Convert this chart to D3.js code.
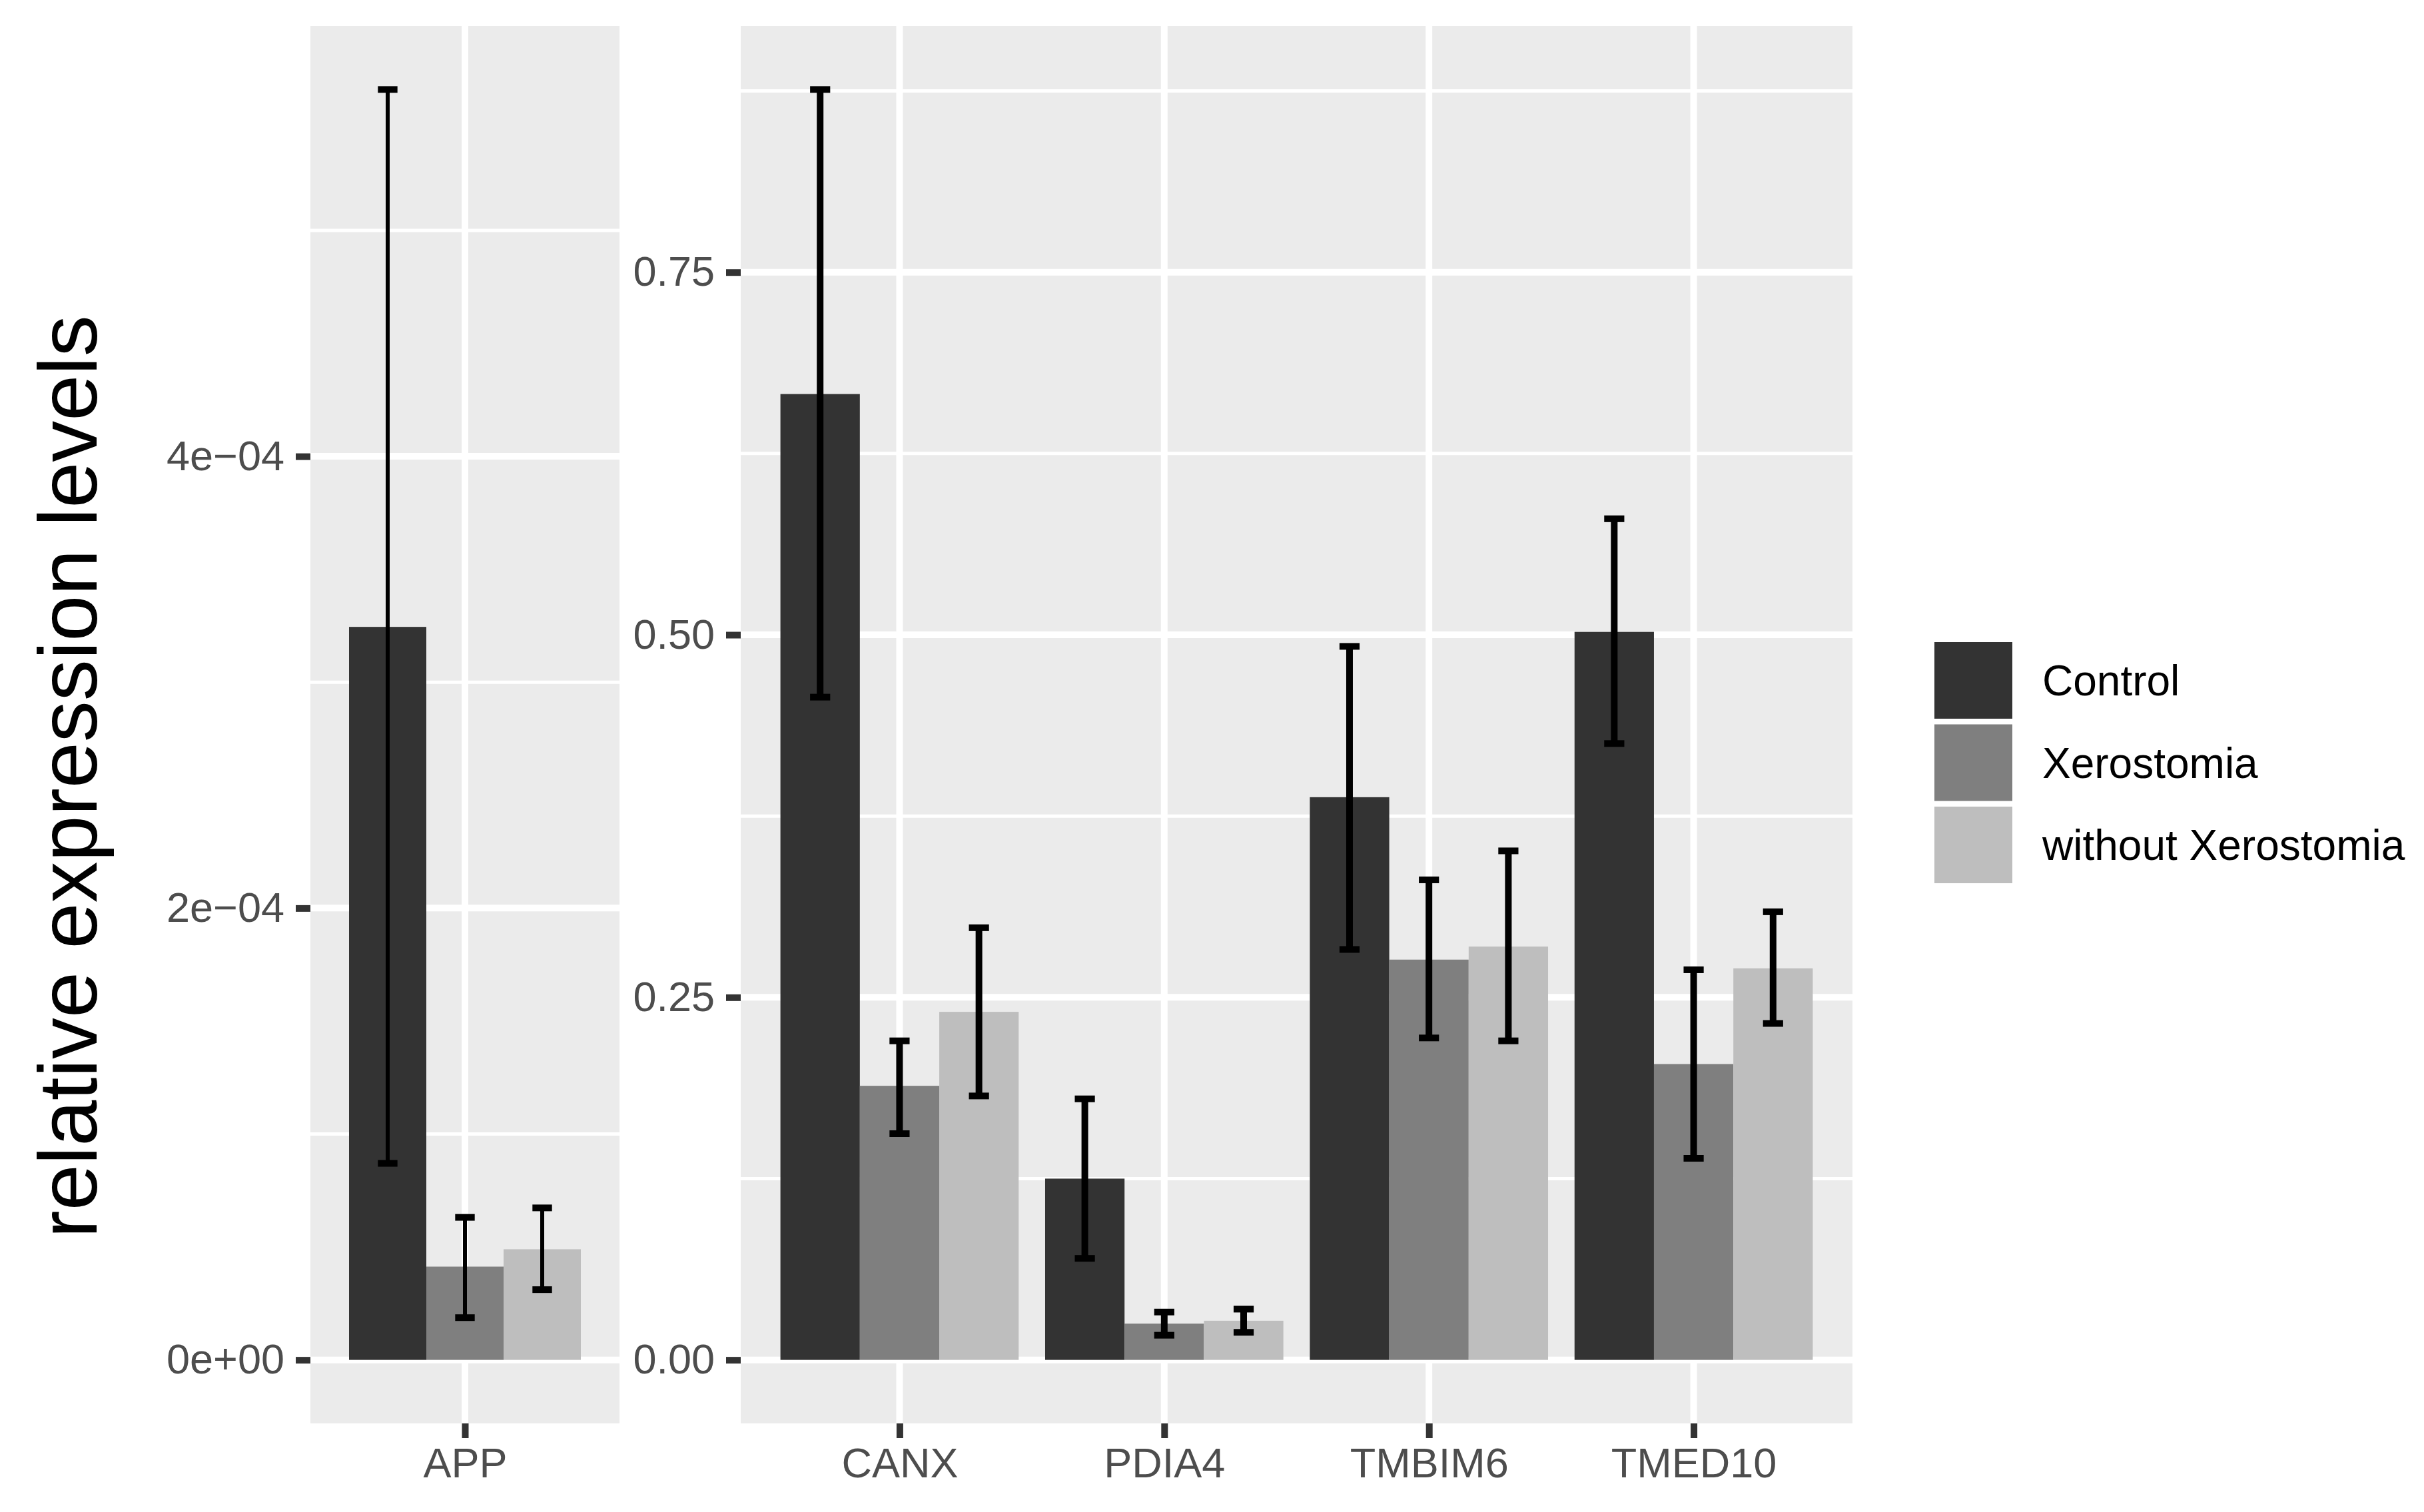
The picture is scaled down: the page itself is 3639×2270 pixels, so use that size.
<!DOCTYPE html>
<html>
<head>
<meta charset="utf-8">
<script src="https://cdn.jsdelivr.net/npm/d3@7"></script>
<style>
  html, body { margin: 0; padding: 0; background: #ffffff; }
  svg { display: block; }
</style>
</head>
<body>
<svg id="chart" width="3639" height="2270"></svg>
<script>
// ---------------- DATA ----------------
const groups = ["Control", "Xerostomia", "without Xerostomia"];
const appGenes = ["APP"];
const genes = ["CANX", "PDIA4", "TMBIM6", "TMED10"];

// APP panel (one value per group)
const appMean  = [3.245e-4, 0.413e-4, 0.490e-4];
const appLower = [0.870e-4, 0.187e-4, 0.311e-4];
const appUpper = [5.624e-4, 0.631e-4, 0.673e-4];

// Main panel (values per gene, in order of `genes`)
const controlMean  = [0.666, 0.125, 0.388, 0.502];
const controlLower = [0.457, 0.070, 0.283, 0.425];
const controlUpper = [0.876, 0.180, 0.492, 0.580];
const xeroMean     = [0.189, 0.025, 0.276, 0.204];
const xeroLower    = [0.156, 0.017, 0.222, 0.139];
const xeroUpper    = [0.220, 0.033, 0.331, 0.269];
const withoutMean  = [0.240, 0.027, 0.285, 0.270];
const withoutLower = [0.182, 0.019, 0.220, 0.232];
const withoutUpper = [0.298, 0.035, 0.351, 0.309];

const appTicks = [0, 2e-4, 4e-4];
const appTickLabels = ["0e+00", "2e\u221204", "4e\u221204"];
const appMinor = [1e-4, 3e-4, 5e-4];
const mainTicks = [0, 0.25, 0.5, 0.75];
const mainTickLabels = ["0.00", "0.25", "0.50", "0.75"];
const mainMinor = [0.125, 0.375, 0.625, 0.875];

const yTitle = "relative expression levels";

// ---------------- STYLE / LAYOUT ----------------
const fills = ["#333333", "#7f7f7f", "#bebebe"];
const FONT = "'Liberation Sans', Arial, Helvetica, sans-serif";
const panelTop = 39, panelBottom = 2137;
const tickFont = 63, titleFont = 124, tickLen = 22, tickPad = 17;

const svg = d3.select("#chart");

// build rows
const appRows = groups.map((g, i) => ({gene: "APP", group: g, mean: appMean[i], lo: appLower[i], hi: appUpper[i]}));
const mainSeries = [
  [controlMean, controlLower, controlUpper],
  [xeroMean, xeroLower, xeroUpper],
  [withoutMean, withoutLower, withoutUpper]
];
const mainRows = [];
genes.forEach((gene, j) => groups.forEach((g, i) => {
  mainRows.push({gene, group: g, mean: mainSeries[i][0][j], lo: mainSeries[i][1][j], hi: mainSeries[i][2][j]});
}));

function drawPanel(cfg) {
  const {x0, x1, cats, rows, ticks, tickLabels, minor, stemWidth} = cfg;
  const M = d3.max(rows, d => d.hi);
  const y = d3.scaleLinear().domain([-0.05 * M, 1.05 * M]).range([panelBottom, panelTop]);
  const x = d3.scalePoint().domain(cats).range([x0, x1]).padding(0.6);
  const step = x.step();
  const dodge = d3.scaleBand().domain(groups).range([-0.45 * step, 0.45 * step]);

  const g = svg.append("g");
  // background
  g.append("rect").attr("x", x0).attr("y", panelTop)
    .attr("width", x1 - x0).attr("height", panelBottom - panelTop).attr("fill", "#ebebeb");
  // minor grid
  g.selectAll(".minor").data(minor).enter().append("line")
    .attr("x1", x0).attr("x2", x1).attr("y1", d => y(d)).attr("y2", d => y(d))
    .attr("stroke", "#ffffff").attr("stroke-width", 5);
  // major grid
  g.selectAll(".majorH").data(ticks).enter().append("line")
    .attr("x1", x0).attr("x2", x1).attr("y1", d => y(d)).attr("y2", d => y(d))
    .attr("stroke", "#ffffff").attr("stroke-width", 10);
  g.selectAll(".majorV").data(cats).enter().append("line")
    .attr("x1", d => x(d)).attr("x2", d => x(d)).attr("y1", panelTop).attr("y2", panelBottom)
    .attr("stroke", "#ffffff").attr("stroke-width", 10);

  // bars
  g.selectAll(".bar").data(rows).enter().append("rect")
    .attr("x", d => x(d.gene) + dodge(d.group))
    .attr("width", dodge.bandwidth())
    .attr("y", d => y(d.mean))
    .attr("height", d => y(0) - y(d.mean))
    .attr("fill", d => fills[groups.indexOf(d.group)]);

  // error bars
  const capW = 0.076 * step;
  const eb = g.selectAll(".eb").data(rows).enter().append("g");
  const cx = d => x(d.gene) + dodge(d.group) + dodge.bandwidth() / 2;
  eb.append("line").attr("x1", cx).attr("x2", cx)
    .attr("y1", d => y(d.lo)).attr("y2", d => y(d.hi))
    .attr("stroke", "#000").attr("stroke-width", stemWidth);
  eb.append("line").attr("x1", d => cx(d) - capW / 2).attr("x2", d => cx(d) + capW / 2)
    .attr("y1", d => y(d.hi)).attr("y2", d => y(d.hi))
    .attr("stroke", "#000").attr("stroke-width", 10);
  eb.append("line").attr("x1", d => cx(d) - capW / 2).attr("x2", d => cx(d) + capW / 2)
    .attr("y1", d => y(d.lo)).attr("y2", d => y(d.lo))
    .attr("stroke", "#000").attr("stroke-width", 10);

  // y axis
  const yAxis = d3.axisLeft(y).tickValues(ticks)
    .tickFormat((d, i) => tickLabels[i]).tickSize(tickLen).tickPadding(tickPad);
  const ya = svg.append("g").attr("transform", `translate(${x0},0)`).call(yAxis);
  ya.select(".domain").remove();
  ya.selectAll(".tick line").attr("stroke", "#333333").attr("stroke-width", 10);
  ya.selectAll(".tick text").attr("fill", "#4d4d4d")
    .style("font-family", FONT).style("font-size", tickFont + "px");

  // x axis
  const xAxis = d3.axisBottom(x).tickSize(tickLen).tickPadding(14);
  const xa = svg.append("g").attr("transform", `translate(0,${panelBottom})`).call(xAxis);
  xa.select(".domain").remove();
  xa.selectAll(".tick line").attr("stroke", "#333333").attr("stroke-width", 10);
  xa.selectAll(".tick text").attr("fill", "#4d4d4d")
    .style("font-family", FONT).style("font-size", tickFont + "px");
}

drawPanel({x0: 466, x1: 930, cats: appGenes, rows: appRows,
  ticks: appTicks, tickLabels: appTickLabels, minor: appMinor, stemWidth: 6});
drawPanel({x0: 1112, x1: 2781, cats: genes, rows: mainRows,
  ticks: mainTicks, tickLabels: mainTickLabels, minor: mainMinor, stemWidth: 10});

// y title
svg.append("text")
  .attr("transform", "translate(145,1166) rotate(-90)")
  .attr("text-anchor", "middle")
  .style("font-family", FONT).style("font-size", titleFont + "px")
  .attr("fill", "#000").text(yTitle);

// legend
const legX = 2904, legY = 964, keyW = 117, keyH = 115, keyStep = 123.5;
const leg = svg.append("g");
groups.forEach((gname, i) => {
  leg.append("rect").attr("x", legX).attr("y", legY + i * keyStep)
    .attr("width", keyW).attr("height", keyH).attr("fill", fills[i]);
  leg.append("text").attr("x", 3066).attr("y", legY + i * keyStep + keyH / 2 + 0.36 * tickFont)
    .style("font-family", FONT).style("font-size", (tickFont + 1) + "px")
    .attr("fill", "#000").text(gname);
});
</script>
</body>
</html>
